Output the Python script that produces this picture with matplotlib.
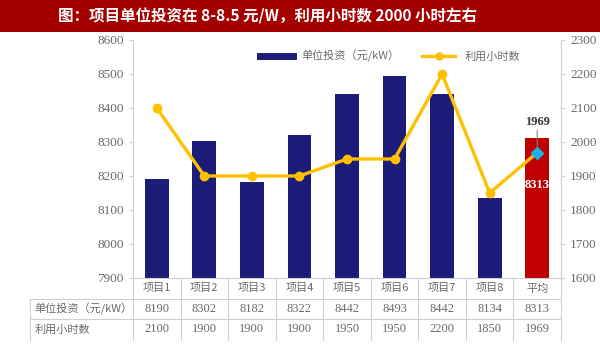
import matplotlib.pyplot as plt
import matplotlib.transforms as mtransforms
from matplotlib.patches import Rectangle
from matplotlib.lines import Line2D
import numpy as np

plt.rcParams['font.family'] = ['Liberation Serif', 'Noto Sans CJK SC', 'DejaVu Sans']

categories = ["项目1", "项目2", "项目3", "项目4", "项目5", "项目6", "项目7", "项目8", "平均"]
invest = [8190, 8302, 8182, 8322, 8442, 8493, 8442, 8134, 8313]
hours = [2100, 1900, 1900, 1900, 1950, 1950, 2200, 1850, 1969]
row_names = ["单位投资（元/kW）", "利用小时数"]

navy = "#1c1c78"
red = "#c00000"
gold = "#ffc000"
grey = "#6a6a6a"
gridc = "#d0d0d0"

fig = plt.figure(figsize=(6, 3.49), dpi=100)
fig.patch.set_facecolor("white")

# title banner
fig.patches.append(Rectangle((0, 1 - 32 / 349), 1, 32 / 349, transform=fig.transFigure,
                             facecolor="#a50000", edgecolor="none", zorder=0))
fig.text(0.445, 1 - 16 / 349, "图：项目单位投资在 8-8.5 元/W，利用小时数 2000 小时左右",
         color="white", fontsize=11.2, fontweight="bold", ha="center", va="center",
         family=['Noto Sans CJK SC', 'DejaVu Sans'])

ax = fig.add_axes([133 / 600, 1 - 278 / 349, 428 / 600, 238 / 349])
x = np.arange(len(categories))
colors = [navy] * 8 + [red]
ax.bar(x, invest, width=0.5, color=colors, zorder=2)
ax.set_ylim(7900, 8600)
ax.set_xlim(-0.5, len(categories) - 0.5)
ax.set_yticks(np.arange(7900, 8601, 100))
ax.set_xticks([])
ax.tick_params(axis="y", colors=grey, labelsize=9.5, length=3, width=0.8, color=gridc)
ax.spines["top"].set_visible(False)
for s in ["left", "right", "bottom"]:
    ax.spines[s].set_color(gridc)
ax.text(x[-1], 8175, f"{invest[-1]}", color="white", fontsize=9, fontweight="bold",
        ha="center", va="center", zorder=4)

ax2 = ax.twinx()
ax2.plot(x[:-1], hours[:-1], color=gold, lw=2.4, marker="o", ms=6, zorder=3)
ax2.plot(x[-2:], hours[-2:], color=gold, lw=2.4, zorder=3)
ax2.plot(x[-1], hours[-1], marker="D", ms=6, color="#1ab0e8", zorder=4)
ax2.annotate(f"{hours[-1]}", xy=(x[-1], hours[-1]), xytext=(x[-1], 2042),
             ha="center", va="bottom", fontsize=9, fontweight="bold", color="#333333",
             arrowprops=dict(arrowstyle="-", color="#808080", lw=0.8, shrinkA=0, shrinkB=3))
ax2.set_ylim(1600, 2300)
ax2.set_yticks(np.arange(1600, 2301, 100))
ax2.tick_params(axis="y", colors=grey, labelsize=9.5, length=3, width=0.8, color=gridc)
for s in ["top", "left", "bottom"]:
    ax2.spines[s].set_visible(False)
ax2.spines["right"].set_color(gridc)

# legend
cjk = ['Noto Sans CJK SC', 'DejaVu Sans']
handles = [Line2D([], [], color=navy, lw=5),
           Line2D([], [], color=gold, lw=2.4, marker="o", ms=5)]
ax.legend(handles, row_names, loc="upper center",
          bbox_to_anchor=(0.6, 1.0), ncol=2, frameon=False,
          labelcolor=grey, handlelength=3, columnspacing=2,
          prop={'family': cjk, 'size': 8})

# data table below the axes
trans = mtransforms.blended_transform_factory(ax.transData, ax.transAxes)
rows_y = [0, -0.088, -0.172, -0.26]
left = -0.5 - 103 / (428 / 9)
right = len(categories) - 0.5
kw = dict(transform=trans, clip_on=False, color=gridc, lw=0.8)
ax.add_line(Line2D([left, right], [rows_y[1]] * 2, **kw))
ax.add_line(Line2D([left, right], [rows_y[2]] * 2, **kw))
ax.add_line(Line2D([left, left], [rows_y[1], rows_y[3]], **kw))
for b in np.arange(-0.5, len(categories), 1.0):
    ax.add_line(Line2D([b, b], [rows_y[0], rows_y[3]], **kw))

mid = [(rows_y[i] + rows_y[i + 1]) / 2 for i in range(3)]
for i, c in enumerate(categories):
    ax.text(i, mid[0], c, transform=trans, ha="center", va="center", fontsize=8,
            color=grey, family=cjk)
    ax.text(i, mid[1], f"{invest[i]}", transform=trans, ha="center", va="center",
            fontsize=9, color=grey)
    ax.text(i, mid[2], f"{hours[i]}", transform=trans, ha="center", va="center",
            fontsize=9, color=grey)
for j, name in enumerate(row_names):
    ax.text(left + 0.1, mid[j + 1], name, transform=trans, ha="left", va="center",
            fontsize=8, color=grey, family=cjk)

fig.savefig("out.png", dpi=100)
